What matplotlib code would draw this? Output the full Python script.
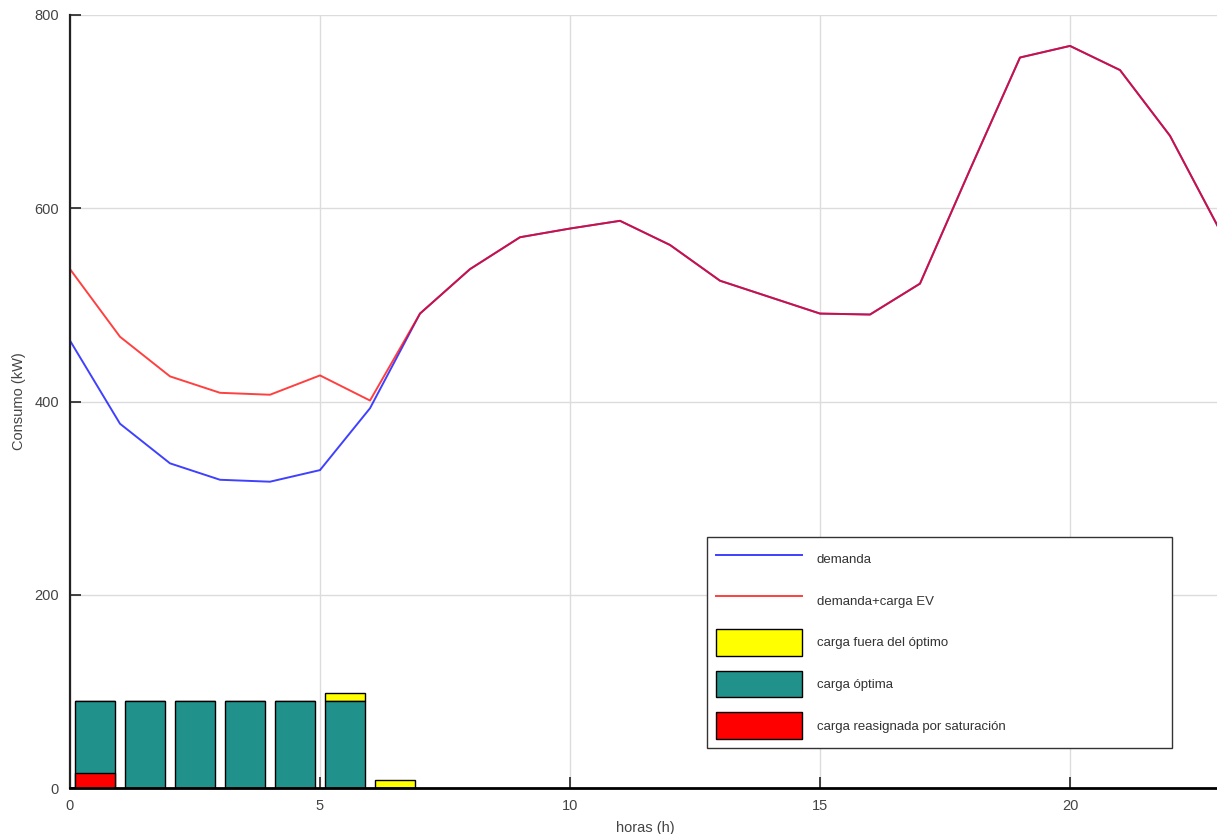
import numpy as np
import matplotlib
matplotlib.use("Agg")
import matplotlib.pyplot as plt

# =========================================================
# Data
# =========================================================
horas = np.arange(24)

demanda = [463, 377, 336, 319, 317, 329, 393, 491, 537, 570, 579, 587,
           562, 525, 508, 491, 490, 522, 640, 756, 768, 743, 675, 577]

horas_carga = np.arange(7)
carga_optima = [90, 90, 90, 90, 90, 90, 0]
carga_fuera = [0, 0, 0, 0, 0, 8, 8]
carga_reasignada = [16, 0, 0, 0, 0, 0, 0]

# demanda total = base + carga EV (la reasignada se descuenta de la hora)
ev = np.zeros(24)
ev[:7] = np.array(carga_optima) + np.array(carga_fuera) - np.array(carga_reasignada)
demanda_ev = np.array(demanda) + ev

# =========================================================
# Plot
# =========================================================
plt.rcParams['font.family'] = ['Liberation Sans', 'DejaVu Sans']

fig = plt.figure(figsize=(12.17, 8.34), dpi=100)
ax = fig.add_axes([70 / 1217, 46 / 834, 1150 / 1217, 773 / 834])

ax.plot(horas, demanda, color='#0000ff', lw=1.4, alpha=0.75, label='demanda')
ax.plot(horas, demanda_ev, color='#ff0000', lw=1.4, alpha=0.75,
        label='demanda+carga EV')

x_bar = horas_carga + 0.5
ax.bar(x_bar, carga_fuera, 0.8, bottom=carga_optima, color='#ffff00',
       edgecolor='black', lw=1, label='carga fuera del óptimo', zorder=3)
ax.bar(x_bar, carga_optima, 0.8, color='#21918c', edgecolor='black', lw=1,
       label='carga óptima', zorder=3)
ax.bar(x_bar, carga_reasignada, 0.8, color='#ff0000', edgecolor='black', lw=1,
       label='carga reasignada por saturación', zorder=4)

ax.set_xlim(0, 23)
ax.set_ylim(0, 800)
ax.set_xticks([0, 5, 10, 15, 20])
ax.set_yticks([0, 200, 400, 600, 800])
ax.grid(True, color='#dcdcdc', lw=1)
ax.set_axisbelow(True)

for side in ['top', 'right']:
    ax.spines[side].set_visible(False)
ax.spines['left'].set_linewidth(1.6)
ax.spines['left'].set_color('#222222')
ax.spines['bottom'].set_linewidth(2)
ax.spines['bottom'].set_color('black')
ax.spines['bottom'].set_zorder(5)

ax.tick_params(direction='in', length=8, width=1.2, labelsize=10.5,
               labelcolor='#444444', color='#222222', pad=8)

ax.set_xlabel('horas (h)', fontsize=10.5, color='#444444', labelpad=6)
ax.set_ylabel('Consumo (kW)', fontsize=10.5, color='#444444', labelpad=6)

leg = ax.legend(loc='lower left', bbox_to_anchor=(0.554, 0.0517, 0.404, 0.273),
                mode='expand', borderaxespad=0, fontsize=9.5,
                handlelength=6.5, handleheight=2.7, labelspacing=1.15,
                handletextpad=1.1, borderpad=0.7, fancybox=False,
                framealpha=1, edgecolor='#333333')
leg.get_frame().set_linewidth(1)
for t in leg.get_texts():
    t.set_color('#333333')

fig.savefig('out.png', dpi=100)
